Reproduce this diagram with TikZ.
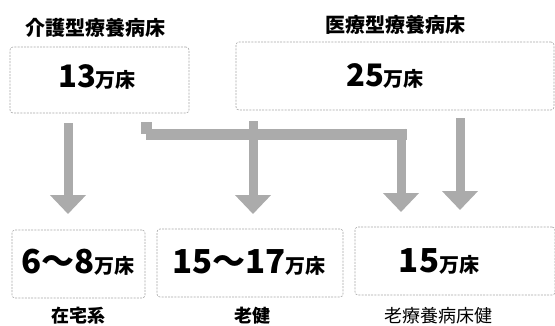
\documentclass[tikz,border=0pt]{standalone}
\usepackage{fontspec}
\newfontfamily\jp{Noto Sans CJK JP}
\usetikzlibrary{arrows.meta}
\begin{document}
\begin{tikzpicture}[x=1pt,y=-1pt,
  box/.style={draw=black!35, line width=0.6pt, dash pattern=on 2pt off 1.2pt, rounded corners=3pt, inner sep=0pt},
  ttl/.style={font=\jp\bfseries\fontsize{20}{22}\selectfont, inner sep=0pt},
  lab/.style={font=\jp\bfseries\fontsize{18}{22}\selectfont, inner sep=0pt},
  arr/.style={draw=black!33, line width=9pt, -{Triangle[width=35pt,length=19pt]}},
  bar/.style={draw=black!33, line width=11pt}
]
\useasboundingbox (0,0) rectangle (555,325);
\newcommand{\num}[2]{{\fontsize{#1}{#1}\selectfont #2}}
\newcommand{\unit}{{\fontsize{20}{20}\selectfont 万床}}
% top
\node[ttl] (title1) at (96,28) {介護型療養病床};
\node[box, minimum width=179pt, minimum height=66pt] (box1) at (99.5,80) {};
\node[font=\jp\bfseries, inner sep=0pt] (t1) at (97,77) {\num{31}{13}\unit};
\node[ttl] (title2) at (395,25) {医療型療養病床};
\node[box, minimum width=318pt, minimum height=68pt] (box2) at (395,76) {};
\node[font=\jp\bfseries, inner sep=0pt] (t2) at (385,76) {\num{31}{25}\unit};
% bottom
\node[box, minimum width=133pt, minimum height=68pt] (boxA) at (78.5,264) {};
\node[font=\jp\bfseries, inner sep=0pt] (tA) at (78,262) {\num{33}{6〜8}\unit};
\node[box, minimum width=186pt, minimum height=68pt] (boxB) at (250,263) {};
\node[font=\jp\bfseries, inner sep=0pt] (tB) at (249,262) {\num{33}{15〜17}\unit};
\node[box, minimum width=200pt, minimum height=68pt] (boxC) at (455,261) {};
\node[font=\jp\bfseries, inner sep=0pt] (tC) at (439,261) {\num{33}{15}\unit};
\node[lab] (labA) at (78,316) {在宅系};
\node[lab] (labB) at (252,316) {老健};
\node[lab, font=\jp\fontsize{18}{22}\selectfont] (labC) at (438,316) {老療養病床健};
% arrows
\coordinate (a1s) at (68,123);
\coordinate (a1e) at (68,214);
\draw[arr] (a1s) -- (a1e);
\coordinate (b0) at (146,122);
\coordinate (b1) at (146,134);
\coordinate (b2) at (401,134);
\coordinate (b3) at (401,212);
\draw[bar] (b0) -- (b1);
\draw[bar] (146,134) -- (406.5,134);
\draw[arr] (b2) ++(0,-5.5) -- (b3);
\coordinate (m1) at (253,121);
\coordinate (m2) at (253,214);
\draw[arr] (m1) -- (m2);
\coordinate (r1) at (460,118);
\coordinate (r2) at (460,210);
\draw[arr] (r1) -- (r2);
\end{tikzpicture}
\end{document}
